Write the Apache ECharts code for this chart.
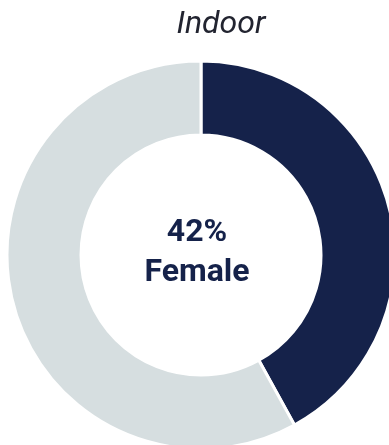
<!DOCTYPE html>
<html>
<head>
<meta charset="utf-8">
<script src="https://cdn.jsdelivr.net/npm/echarts@6/dist/echarts.min.js"></script>
<style>
  html, body { margin: 0; padding: 0; background: #ffffff; }
  #chart { width: 389px; height: 445px; }
</style>
</head>
<body>
<div id="chart"></div>
<script>
// Share of participants by gender, indoor setting
const categories = ['Female', 'Male'];
const shares = [42, 58];
const colors = ['#15224A', '#D6DEE0'];
const chartTitle = 'Indoor';

const chart = echarts.init(document.getElementById('chart'), null, { renderer: 'canvas' });

const centerLabel = shares[0] + '%\n' + categories[0];

chart.setOption({
  animation: false,
  title: [
    {
      text: chartTitle,
      left: 216,
      top: 4,
      textAlign: 'center',
      textStyle: {
        fontFamily: 'Roboto',
        fontStyle: 'italic',
        fontWeight: 'normal',
        fontSize: 32,
        color: '#222430'
      }
    },
    {
      text: centerLabel,
      left: 192,
      top: 208,
      textAlign: 'center',
      textStyle: {
        fontFamily: 'Roboto',
        fontWeight: 'bold',
        fontSize: 32,
        lineHeight: 40,
        color: '#15224A'
      }
    }
  ],
  series: [
    {
      type: 'pie',
      center: [201, 255],
      radius: [120, 194],
      startAngle: 90,
      clockwise: true,
      silent: true,
      label: { show: false },
      labelLine: { show: false },
      itemStyle: { borderColor: '#ffffff', borderWidth: 3 },
      data: categories.map((name, i) => ({
        name: name,
        value: shares[i],
        itemStyle: { color: colors[i] }
      }))
    }
  ]
});
</script>
</body>
</html>
